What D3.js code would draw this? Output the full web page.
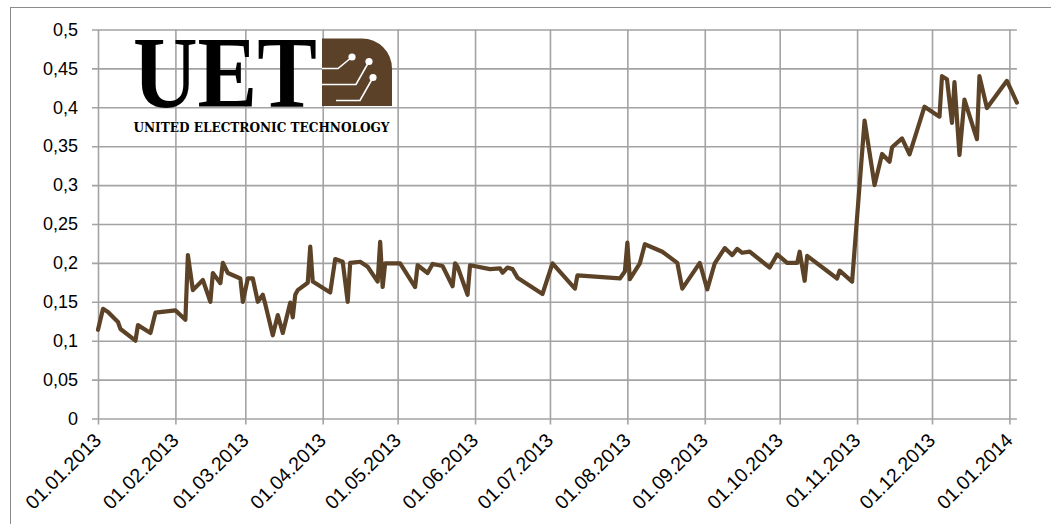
<!DOCTYPE html>
<html>
<head>
<meta charset="utf-8">
<script src="https://cdnjs.cloudflare.com/ajax/libs/d3/7.8.5/d3.min.js"></script>
<style>
    body { margin: 0; background: #fff; }
    svg { display: block; font-family: Lato, "Open Sans", sans-serif; }
</style>
</head>
<body>
<svg id="chart" width="1051" height="524"></svg>
<script>
// price series (dd.mm.yyyy)
var dates = [
    "01.01.2013", "03.01.2013", "05.01.2013", "09.01.2013", "10.01.2013", "16.01.2013", "17.01.2013", "22.01.2013", "24.01.2013",
    "01.02.2013", "05.02.2013", "06.02.2013", "08.02.2013", "12.02.2013", "15.02.2013", "16.02.2013", "19.02.2013", "20.02.2013", "22.02.2013", "27.02.2013", "28.02.2013",
    "02.03.2013", "04.03.2013", "06.03.2013", "08.03.2013", "09.03.2013", "12.03.2013", "14.03.2013", "16.03.2013", "19.03.2013", "20.03.2013", "21.03.2013", "22.03.2013", "26.03.2013", "27.03.2013", "28.03.2013",
    "04.04.2013", "06.04.2013", "09.04.2013", "11.04.2013", "12.04.2013", "16.04.2013", "19.04.2013", "23.04.2013", "24.04.2013", "25.04.2013", "26.04.2013",
    "02.05.2013", "08.05.2013", "09.05.2013", "13.05.2013", "15.05.2013", "19.05.2013", "23.05.2013", "24.05.2013", "25.05.2013", "29.05.2013", "30.05.2013",
    "07.06.2013", "11.06.2013", "12.06.2013", "14.06.2013", "16.06.2013", "18.06.2013", "28.06.2013",
    "02.07.2013", "11.07.2013", "12.07.2013", "29.07.2013", "31.07.2013",
    "01.08.2013", "02.08.2013", "06.08.2013", "08.08.2013", "15.08.2013", "21.08.2013", "23.08.2013", "30.08.2013",
    "02.09.2013", "05.09.2013", "09.09.2013", "12.09.2013", "14.09.2013", "16.09.2013", "19.09.2013", "27.09.2013", "30.09.2013",
    "04.10.2013", "08.10.2013", "09.10.2013", "11.10.2013", "12.10.2013", "24.10.2013", "25.10.2013", "30.10.2013",
    "04.11.2013", "08.11.2013", "11.11.2013", "14.11.2013", "15.11.2013", "19.11.2013", "22.11.2013", "28.11.2013",
    "04.12.2013", "05.12.2013", "07.12.2013", "09.12.2013", "10.12.2013", "12.12.2013", "14.12.2013", "18.12.2013", "19.12.2013", "20.12.2013", "23.12.2013", "31.12.2013",
    "04.01.2014"
];

var values = [
    0.114, 0.141, 0.137, 0.124, 0.115, 0.100, 0.120, 0.110, 0.136,
    0.139, 0.127, 0.210, 0.165, 0.178, 0.150, 0.187, 0.174, 0.200, 0.187, 0.180, 0.150,
    0.180, 0.180, 0.150, 0.159, 0.147, 0.107, 0.133, 0.110, 0.149, 0.130, 0.159, 0.165, 0.1745, 0.221, 0.176,
    0.162, 0.205, 0.2015, 0.150, 0.200, 0.2015, 0.195, 0.176, 0.227, 0.169, 0.1995,
    0.1995, 0.169, 0.197, 0.187, 0.1986, 0.196, 0.170, 0.1995, 0.195, 0.159, 0.197,
    0.192, 0.193, 0.1874, 0.194, 0.192, 0.181, 0.160,
    0.1995, 0.167, 0.184, 0.180, 0.189,
    0.226, 0.179, 0.1995, 0.224, 0.2144, 0.200, 0.167, 0.200,
    0.166, 0.1995, 0.219, 0.210, 0.218, 0.213, 0.2144, 0.194, 0.211,
    0.200, 0.200, 0.2144, 0.177, 0.209, 0.180, 0.190, 0.176,
    0.383, 0.300, 0.340, 0.330, 0.3486, 0.360, 0.3396, 0.4008,
    0.388, 0.440, 0.436, 0.380, 0.4325, 0.3387, 0.410, 0.369, 0.359, 0.440, 0.399, 0.434,
    0.406
];

var yTicks = [0, 0.05, 0.1, 0.15, 0.2, 0.25, 0.3, 0.35, 0.4, 0.45, 0.5];

var monthTicks = [
    "01.01.2013", "01.02.2013", "01.03.2013", "01.04.2013", "01.05.2013", "01.06.2013", "01.07.2013",
    "01.08.2013", "01.09.2013", "01.10.2013", "01.11.2013", "01.12.2013", "01.01.2014"
];

var parseDate = d3.timeParse("%d.%m.%Y"),
    formatDate = d3.timeFormat("%d.%m.%Y"),
    formatVal = d3.formatLocale({decimal: ",", thousands: " ", grouping: [3], currency: ["", ""]}).format(".2~f");

var data = dates.map(function(d, i) {
    return {date: parseDate(d), value: values[i]};
});

var margin = {top: 29.5, left: 98},
    w = 918.9,
    h = 389;

var svg = d3.select("#chart");

// outer chart frame (runs past the picture on the right and bottom)
svg.append("rect")
    .attr("x", 10.5)
    .attr("y", 7.5)
    .attr("width", 1100)
    .attr("height", 600)
    .style("fill", "none")
    .style("stroke", "#8c8c8c")
    .style("stroke-width", 1);

var g = svg.append("g")
    .attr("transform", "translate(" + margin.left + "," + margin.top + ")");

var xScale = d3.scaleTime()
    .domain([data[0].date, data[data.length - 1].date])
    .range([0, w]);

var yScale = d3.scaleLinear()
    .domain([0, 0.5])
    .range([h, 0]);

var gridColor = "#a3a3a3";

// horizontal grid + y labels
var yAxis = g.append("g")
    .attr("class", "y axis")
    .call(d3.axisLeft(yScale).tickValues(yTicks).tickFormat(formatVal).tickSizeOuter(0));

yAxis.select(".domain").remove();
yAxis.selectAll(".tick line")
    .attr("x1", -6)
    .attr("x2", w)
    .style("stroke", gridColor)
    .style("stroke-width", 1.6);
yAxis.selectAll(".tick text")
    .attr("x", -20)
    .style("font-size", "18px")
    .style("fill", "#000");

// vertical grid + rotated date labels
var xAxis = g.append("g")
    .attr("class", "x axis")
    .attr("transform", "translate(0," + h + ")")
    .call(d3.axisBottom(xScale).tickValues(monthTicks.map(parseDate)).tickFormat(formatDate).tickSizeOuter(0));

xAxis.select(".domain").remove();
xAxis.selectAll(".tick line")
    .attr("y1", 6)
    .attr("y2", -h)
    .style("stroke", gridColor)
    .style("stroke-width", 1.6);
xAxis.selectAll(".tick text")
    .attr("y", 0)
    .attr("dy", 0)
    .attr("text-anchor", "end")
    .attr("transform", "translate(4,23) rotate(-45)")
    .style("font-size", "19.5px")
    .style("fill", "#000");

// the line
var line = d3.line()
    .x(function(d) { return xScale(d.date); })
    .y(function(d) { return yScale(d.value); });

g.append("path")
    .datum(data)
    .attr("d", line)
    .style("fill", "none")
    .style("stroke", "#5c4327")
    .style("stroke-width", 4.2)
    .style("stroke-linejoin", "round")
    .style("stroke-linecap", "round");

// UET logo
var logo = svg.append("g")
    .attr("class", "logo");

logo.append("text")
    .attr("x", 133)
    .attr("y", 107)
    .attr("textLength", 184)
    .attr("lengthAdjust", "spacingAndGlyphs")
    .style("font-family", "'Liberation Serif', serif")
    .style("font-weight", "bold")
    .style("font-size", "102px")
    .style("fill", "#000")
    .text("UET");

logo.append("path")
    .attr("d", "M322,38.5H362A30,30 0 0 1 392,68.5V106H322Z")
    .style("fill", "#5a4128");

var traces = [
    [[322, 68.5], [338, 68.5], [352, 57]],
    [[322, 84.5], [356, 84.5], [369, 61.5]],
    [[336, 100.5], [360, 100.5], [373, 77.5]]
];

traces.forEach(function(t) {
    logo.append("path")
        .attr("d", d3.line()(t))
        .style("fill", "none")
        .style("stroke", "#fff")
        .style("stroke-width", 1.6);
    logo.append("circle")
        .attr("cx", t[2][0])
        .attr("cy", t[2][1])
        .attr("r", 3.6)
        .style("fill", "#fff");
});

logo.append("text")
    .attr("x", 133.5)
    .attr("y", 131.5)
    .attr("textLength", 256)
    .attr("lengthAdjust", "spacingAndGlyphs")
    .style("font-family", "'DejaVu Serif', serif")
    .style("font-weight", "bold")
    .style("font-size", "12.5px")
    .style("fill", "#000")
    .style("stroke", "#fff")
    .style("stroke-width", 0.6)
    .style("paint-order", "stroke")
    .text("UNITED ELECTRONIC TECHNOLOGY");
</script>
</body>
</html>
